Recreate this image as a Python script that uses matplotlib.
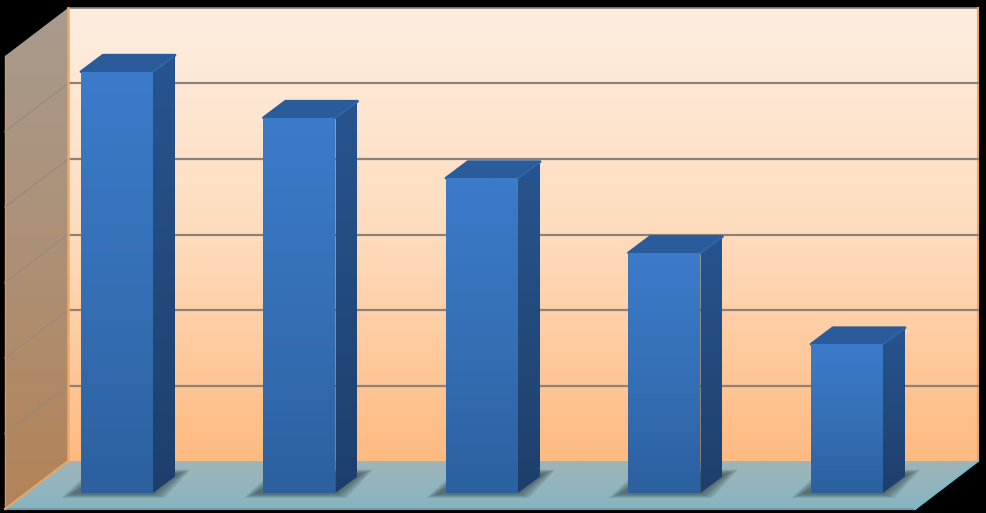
#!/usr/bin/env python3
import numpy as np
import matplotlib
matplotlib.use("Agg")
import matplotlib.pyplot as plt
from matplotlib.colors import LinearSegmentedColormap
from matplotlib.patches import Polygon

# Values (gridline spacing = 1 unit)
categories = [0, 1, 2, 3, 4]
values = [5.58, 4.97, 4.17, 3.18, 1.97]
gridlines = [1, 2, 3, 4, 5]
wall_top = 6

# Scale of the picture: pixels per category and per value unit
PX_CAT = 182.5
PX_VAL = 75.5
cx = lambda px: px / PX_CAT
vy = lambda px: px / PX_VAL

half_w = cx(36)
depth_x, depth_y = cx(22), vy(16.5)
back_x0, back_x1 = cx(68 - 117), cx(978 - 117)
back_y = vy(32)
wall_dx, wall_dy = cx(63), vy(48)


def gradient(ax, pts, stops, zorder, horizontal=False):
    # Fill a polygon with a linear gradient through an image clipped to it
    pts = np.array(pts)
    cmap = LinearSegmentedColormap.from_list("g", stops)
    grad = np.linspace(0, 1, 256)
    grad = grad.reshape(1, -1) if horizontal else grad.reshape(-1, 1)
    extent = [pts[:, 0].min(), pts[:, 0].max(), pts[:, 1].min(), pts[:, 1].max()]
    im = ax.imshow(grad, cmap=cmap, extent=extent, origin="upper", aspect="auto",
                   zorder=zorder, interpolation="bilinear")
    clip = Polygon(pts, closed=True, transform=ax.transData)
    im.set_clip_path(clip)
    return im


fig = plt.figure(figsize=(9.86, 5.13), dpi=100, facecolor="black")
ax = fig.add_axes([0, 0, 1, 1])
ax.set_axis_off()

# Back wall
gradient(ax, [(back_x0, back_y), (back_x1, back_y),
              (back_x1, wall_top + back_y), (back_x0, wall_top + back_y)],
         ["#fdeee1", "#fedcbd", "#ffba80"], 1)
ax.plot([back_x0, back_x1], [wall_top + back_y] * 2, color="#8a8278", lw=1.2, zorder=2)
ax.plot([back_x1, back_x1], [back_y, wall_top + back_y], color="#f4a460", lw=1.5, zorder=2)
for g in gridlines:
    ax.plot([back_x0, back_x1], [g + back_y] * 2, color="#8c8278", lw=1.6, zorder=2)

# Side wall
side = [(back_x0 - wall_dx, back_y - wall_dy), (back_x0, back_y),
        (back_x0, wall_top + back_y), (back_x0 - wall_dx, wall_top + back_y - wall_dy)]
gradient(ax, side, ["#a89b8e", "#ad9075", "#b38357"], 3)
ax.plot([back_x0, back_x0], [back_y, wall_top + back_y], color="#eda768", lw=1.8, zorder=4)
ax.plot([back_x0 - wall_dx, back_x0 - wall_dx], [back_y - wall_dy, wall_top + back_y - wall_dy],
        color="#d09a68", lw=1, zorder=4)
for g in gridlines:
    ax.plot([back_x0 - wall_dx, back_x0], [g + back_y - wall_dy, g + back_y],
            color="#94897f", lw=1.1, alpha=0.7, zorder=3.5)

# Floor
floor = [(back_x0, back_y), (back_x1, back_y),
         (back_x1 - wall_dx, back_y - wall_dy), (back_x0 - wall_dx, back_y - wall_dy)]
gradient(ax, floor, ["#9fb5b8", "#86b4c2"], 3)
ax.plot([back_x0 - wall_dx, back_x1 - wall_dx], [back_y - wall_dy] * 2, color="#6f9aa6", lw=1.5, zorder=4)
ax.plot([back_x1 - wall_dx, back_x1], [back_y - wall_dy, back_y], color="#6fc0cc", lw=1.5, zorder=4)
ax.plot([back_x0 - wall_dx, back_x0], [back_y - wall_dy, back_y], color="#e8a468", lw=1.5, zorder=4)

# Bars
for c, v in zip(categories, values):
    left, right = c - half_w, c + half_w

    # soft shadow on the floor
    for grow in np.linspace(1, 0, 14):
        sx, sy = cx(1 + 11 * grow), vy(1 + 4 * grow)
        ax.add_patch(Polygon([(left - sx - cx(8), -sy), (right + sx, -sy),
                              (right + depth_x + sx + cx(4), depth_y + vy(2) + sy),
                              (left + depth_x - sx, depth_y + vy(2) + sy)],
                             closed=True, fc="#2b3a40", ec="none", alpha=0.05, zorder=5))

    # side face
    gradient(ax, [(right, 0), (right + depth_x, depth_y),
                  (right + depth_x, v + depth_y), (right, v)],
             ["#275490", "#234a7c", "#1e3f6c"], 6)
    # top face
    top = [(left, v), (right, v), (right + depth_x, v + depth_y), (left + depth_x, v + depth_y)]
    ax.add_patch(Polygon(top, closed=True, fc="#2a5c9c", ec="#2a5c9c", lw=2,
                         joinstyle="round", zorder=6))
    # front face
    gradient(ax, [(left, 0), (right, 0), (right, v), (left, v)],
             ["#3c7bca", "#3570b6", "#2c609f"], 7)
    ax.plot([right, right + depth_x], [v, v + depth_y], color="#2f68ac", lw=1, zorder=7)

ax.set_xlim(cx(-117), cx(986 - 117))
ax.set_ylim(vy(-20), vy(493))

fig.savefig("out.png", dpi=100, facecolor="black")
